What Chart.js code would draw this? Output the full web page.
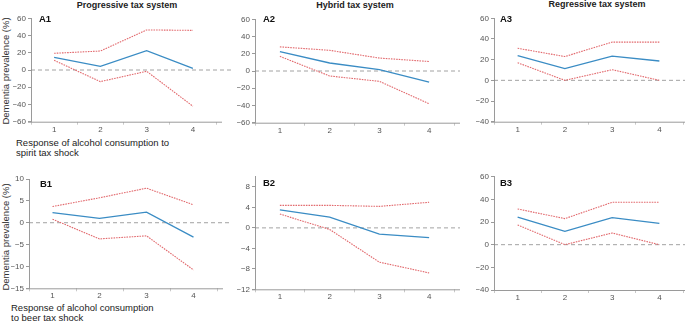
<!DOCTYPE html>
<html>
<head>
<meta charset="utf-8">
<script src="https://cdn.jsdelivr.net/npm/chart.js@4/dist/chart.umd.min.js"></script>
<style>
  body { margin: 0; background: #fff; }
  #wrap { position: relative; width: 685px; height: 322px; overflow: hidden; font-family: "Liberation Sans", Arial, sans-serif; color: #222; }
  canvas { position: absolute; }
  .head { position: absolute; font-weight: bold; font-size: 9px; text-align: center; width: 200px; }
  .xt { position: absolute; font-size: 9.5px; line-height: 10px; color: #222; }
  .yt { position: absolute; font-size: 9.5px; white-space: nowrap; transform: translate(-50%, -50%) rotate(-90deg); color: #333; }
</style>
</head>
<body>
<div id="wrap">
  <div class="head" style="left:27px;top:0px;">Progressive tax system</div>
  <div class="head" style="left:255px;top:0px;">Hybrid tax system</div>
  <div class="head" style="left:497px;top:-1px;">Regressive tax system</div>
  <div class="yt" style="left:5px;top:71px;">Dementia prevalence (%)</div>
  <div class="yt" style="left:5px;top:237px;">Dementia prevalence (%)</div>
  <div class="xt" style="left:16px;top:138px;">Response of alcohol consumption to<br>spirit tax shock</div>
  <div class="xt" style="left:11px;top:303px;">Response of alcohol consumption<br>to beer tax shock</div>
</div>
<script>
// response categories on the x axis
const categories = ['1', '2', '3', '4'];

// spirit tax shock, point estimate with upper / lower bounds
const a1Mean = [14.7, 4.3, 22.5, 2.0];
const a1Upper = [19.4, 22.0, 46.5, 46.0];
const a1Lower = [11.2, -13.5, -1.5, -42.0];

const a2Mean = [22.5, 9.3, 1.5, -13.0];
const a2Upper = [28.0, 24.0, 15.0, 11.0];
const a2Lower = [17.0, -5.8, -12.0, -38.0];

const a3Mean = [24.0, 11.3, 23.5, 18.7];
const a3Upper = [31.0, 23.0, 37.0, 37.0];
const a3Lower = [17.0, 0.0, 10.3, 0.0];

// beer tax shock
const b1Mean = [2.3, 1.0, 2.4, -3.3];
const b1Upper = [3.7, 5.7, 7.9, 4.1];
const b1Lower = [0.8, -3.7, -3.0, -10.8];

const b2Mean = [3.5, 2.1, -1.2, -1.9];
const b2Upper = [4.4, 4.4, 4.2, 5.0];
const b2Lower = [2.7, -0.3, -6.7, -8.8];

const b3Mean = [24.4, 11.8, 23.8, 18.8];
const b3Upper = [31.5, 23.0, 37.4, 37.4];
const b3Lower = [17.4, 0.0, 10.3, 0.0];

const BLUE = '#3a8cc4';
const RED = '#e26a6e';
const AXIS = '#9a9a9a';
const TICK_FONT = { family: '"Liberation Sans", Arial, sans-serif', size: 8 };
const Y_W = 18;
const X_H = 18;

// zero reference line, extended axis line and panel tag
const panelExtras = {
  id: 'panelExtras',
  beforeDatasetsDraw(chart, args, opts) {
    const { ctx, chartArea } = chart;
    const y0 = chart.scales.y.getPixelForValue(0);
    ctx.save();
    ctx.strokeStyle = '#8a8a8a';
    ctx.lineWidth = 0.8;
    ctx.setLineDash([4, 3]);
    ctx.beginPath();
    ctx.moveTo(chartArea.left, y0);
    ctx.lineTo(chart.width, y0);
    ctx.stroke();
    ctx.setLineDash([]);
    ctx.strokeStyle = AXIS;
    ctx.lineWidth = 1;
    ctx.beginPath();
    ctx.moveTo(chartArea.left - 3, chartArea.bottom + 0.5);
    ctx.lineTo(Math.min(chartArea.right + 6, chart.width), chartArea.bottom + 0.5);
    ctx.stroke();
    ctx.restore();
  },
  afterDraw(chart, args, opts) {
    const { ctx, chartArea } = chart;
    ctx.save();
    ctx.font = 'bold 9.5px "Liberation Sans", Arial, sans-serif';
    ctx.fillStyle = '#111';
    ctx.textBaseline = 'middle';
    ctx.fillText(opts.tag, chartArea.left + opts.dx, chartArea.top + opts.dy);
    ctx.restore();
  }
};

function minus(v) {
  return String(v).replace('-', '\u2212');
}

function makePanel(tag, box, area, yScale, mean, upper, lower, tagPos) {
  const wrap = document.getElementById('wrap');
  const cv = document.createElement('canvas');
  cv.width = box.w;
  cv.height = box.h;
  cv.style.left = box.x + 'px';
  cv.style.top = box.y + 'px';
  cv.style.width = box.w + 'px';
  cv.style.height = box.h + 'px';
  wrap.appendChild(cv);

  const pad = {
    left: area.l - box.x - Y_W,
    top: area.t - box.y,
    right: box.x + box.w - area.r,
    bottom: box.y + box.h - area.b - X_H
  };

  const red = (data) => ({
    data: data,
    borderColor: RED,
    borderWidth: 1.1,
    borderDash: [1.6, 1],
    pointRadius: 0,
    tension: 0,
    fill: false
  });

  return new Chart(cv, {
    type: 'line',
    data: {
      labels: categories,
      datasets: [
        red(upper),
        red(lower),
        { data: mean, borderColor: BLUE, borderWidth: 1.3, pointRadius: 0, tension: 0, fill: false }
      ]
    },
    options: {
      responsive: false,
      animation: false,
      layout: { padding: pad },
      plugins: {
        legend: { display: false },
        tooltip: { enabled: false },
        panelExtras: { tag: tag, dx: tagPos[0], dy: tagPos[1] }
      },
      scales: {
        x: {
          offset: true,
          afterFit(s) { s.height = X_H; },
          border: { display: false },
          grid: { offset: true, drawOnChartArea: false, tickLength: 3, color: '#c8c8c8' },
          ticks: { color: '#555', font: TICK_FONT, padding: 0, maxRotation: 0 }
        },
        y: {
          min: yScale.min,
          max: yScale.max,
          afterFit(s) { s.width = Y_W; },
          afterBuildTicks(s) {
            s.ticks = yScale.ticks.map(v => ({ value: v }));
          },
          border: { display: true, color: AXIS, width: 1 },
          grid: { drawOnChartArea: false, tickLength: 3, color: AXIS },
          ticks: { color: '#555', font: TICK_FONT, padding: 2, callback: v => minus(v) }
        }
      }
    },
    plugins: [panelExtras]
  });
}

const spanA = { min: -60, max: 60, ticks: [-60, -40, -20, 0, 20, 40, 60] };
const spanR = { min: -40, max: 60, ticks: [-40, -20, 0, 20, 40, 60] };
const spanB1 = { min: -15, max: 10, ticks: [-15, -10, -5, 0, 5, 10] };
const spanB2 = { min: -12, max: 10, ticks: [-12, -8, -4, 0, 4, 8] };

makePanel('A1', { x: 0, y: 0, w: 232, h: 145 }, { l: 31, t: 18.3, r: 216, b: 121.7 }, spanA, a1Mean, a1Upper, a1Lower, [8, 1.5]);
makePanel('A2', { x: 232, y: 0, w: 228, h: 145 }, { l: 255, t: 19.3, r: 454, b: 122.7 }, spanA, a2Mean, a2Upper, a2Lower, [8, 0.5]);
makePanel('A3', { x: 466, y: 0, w: 219, h: 145 }, { l: 494, t: 18.3, r: 683, b: 121.7 }, spanR, a3Mean, a3Upper, a3Lower, [6, 1]);
makePanel('B1', { x: 0, y: 160, w: 232, h: 145 }, { l: 29, t: 179, r: 217, b: 288.3 }, spanB1, b1Mean, b1Upper, b1Lower, [11, 5.5]);
makePanel('B2', { x: 232, y: 160, w: 228, h: 145 }, { l: 255, t: 176.7, r: 454, b: 289.3 }, spanB2, b2Mean, b2Upper, b2Lower, [8, 7]);
makePanel('B3', { x: 466, y: 160, w: 219, h: 145 }, { l: 494, t: 176.7, r: 683, b: 290 }, spanR, b3Mean, b3Upper, b3Lower, [6, 7]);
</script>
</body>
</html>
